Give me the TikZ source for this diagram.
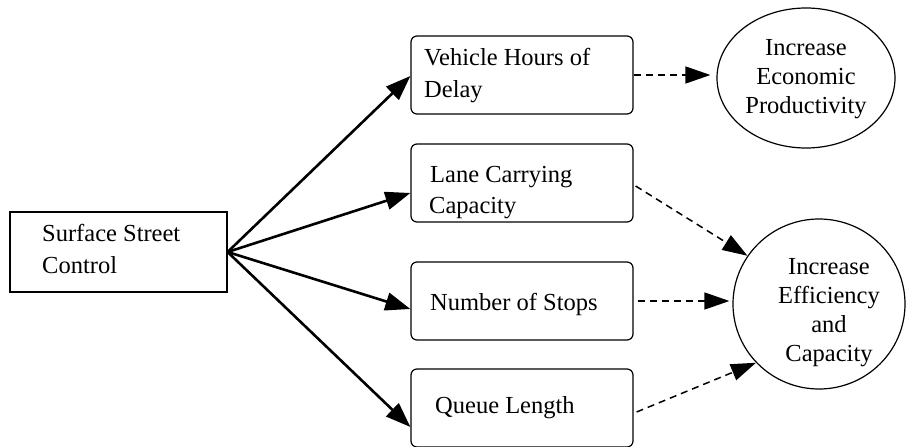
\documentclass[tikz,border=0pt]{standalone}
\usepackage{fontspec}
\setmainfont{Liberation Serif}
\usetikzlibrary{shapes.geometric,arrows.meta,calc}
\begin{document}
\begin{tikzpicture}[x=1pt,y=-1pt,
  txt/.style={inner sep=0pt,font=\fontsize{24.5}{30}\selectfont},
  ltxt/.style={txt,anchor=base west},
  ctxt/.style={txt,anchor=base},
  srcbox/.style={draw,line width=1.2pt,rectangle,inner sep=0pt,minimum width=217pt,minimum height=80pt},
  midbox/.style={draw,line width=1.2pt,rectangle,rounded corners=6pt,inner sep=0pt,minimum width=222pt,minimum height=78pt},
  goal/.style={draw,line width=1.2pt,ellipse,inner sep=0pt},
  solidarr/.style={line width=2.6pt,-{Triangle[length=25pt,width=18pt]}},
  dasharr/.style={line width=1.5pt,dash pattern=on 7pt off 5pt,-{Triangle[length=25pt,width=17pt]}}]
\useasboundingbox (0,0) rectangle (906,447);
% boxes
\node[srcbox] (surf) at (118.5,252) {};
\node[midbox] (b1) at (522,75) {};
\node[midbox] (b2) at (522,183) {};
\node[midbox] (b3) at (522,301) {};
\node[midbox] (b4) at (522,408) {};
\node[goal,minimum width=178pt,minimum height=140pt] (e1) at (806,78) {};
\node[goal,minimum width=172pt,minimum height=170pt] (e2) at (819,304) {};
% texts
\node[ltxt] (s1) at (42,241) {Surface Street};
\node[ltxt] (s2) at (42,273) {Control};
\node[ltxt] (t1a) at (424,65) {Vehicle Hours of};
\node[ltxt] (t1b) at (424,97) {Delay};
\node[ltxt] (t2a) at (430,182) {Lane Carrying};
\node[ltxt] (t2b) at (429,213) {Capacity};
\node[ltxt] (t3) at (430,310) {Number of Stops};
\node[ltxt] (t4) at (435,413) {Queue Length};
\node[ctxt] (g1a) at (806,56) {Increase};
\node[ctxt] (g1b) at (806,84) {Economic};
\node[ctxt] (g1c) at (806,113) {Productivity};
\node[ctxt] (g2a) at (829,274) {Increase};
\node[ctxt] (g2b) at (829,303) {Efficiency};
\node[ctxt] (g2c) at (829,332) {and};
\node[ctxt] (g2d) at (829,361) {Capacity};
% solid arrows
\draw[solidarr] (surf.east) -- ($(b1.west)+(0,1)$);
\draw[solidarr] (surf.east) -- ($(b2.west)+(0,10)$);
\draw[solidarr] (surf.east) -- ($(b3.west)+(0,8)$);
\draw[solidarr] (surf.east) -- ($(b4.west)+(0,19)$);
% dashed arrows
\draw[dasharr,shorten >=6pt] (b1.east) -- (b1.east -| e1.west);
\draw[dasharr] ($(b2.east)+(2,3)$) -- (e2.146);
\draw[dasharr,shorten <=4pt,shorten >=3pt] (b3.east) -- (b3.east -| e2.west);
\draw[dasharr] ($(b4.east)+(3,4)$) -- (e2.223);
\end{tikzpicture}
\end{document}
